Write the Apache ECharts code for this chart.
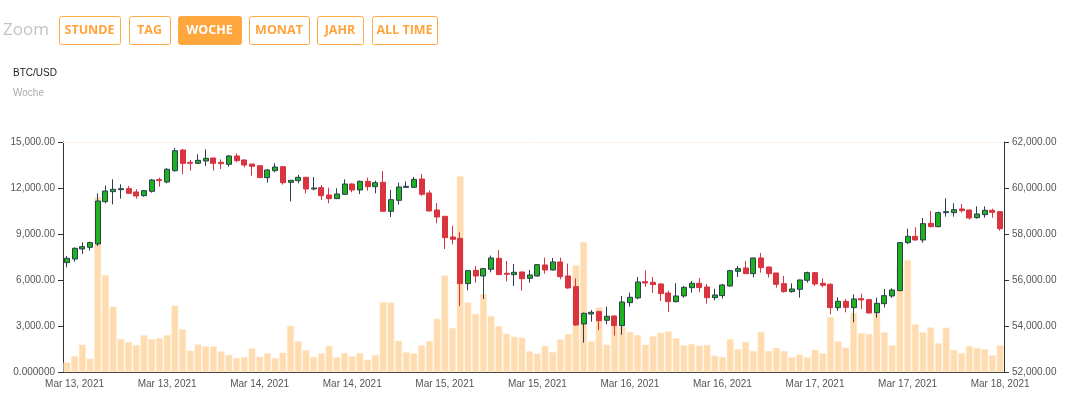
<!DOCTYPE html>
<html>
<head>
<meta charset="utf-8">
<script src="https://cdn.jsdelivr.net/npm/echarts@6/dist/echarts.min.js"></script>
<style>
html,body{margin:0;padding:0;background:#fff;}
#chart{width:1080px;height:403px;}
</style>
</head>
<body>
<div id="chart"></div>
<script>
// ---- Data ----
var dayLabels = ['Mar 13, 2021','Mar 14, 2021','Mar 15, 2021','Mar 16, 2021','Mar 17, 2021','Mar 18, 2021'];
var opens = [56755,56914,57349,57421,57566,59406,59841,59928,59971,59827,59667,59856,60363,60261,60754,61652,61116,61073,61174,61305,
61116,61029,61392,61218,61044,60971,60449,60754,60928,60247,60319,60464,59957,60015,59696,59537,59725,60174,59914,60290,
60058,60247,58986,59464,60029,60029,60392,59783,59044,58769,57870,57812,55842,56422,56175,56465,56943,56291,56233,56349,
56073,56175,56653,56436,56784,56175,55711,54088,54523,54625,54248,54436,54016,55016,55219,55929,55900,55827,55436,55059,
55306,55668,55856,55697,55233,55320,55740,56378,56523,56277,56958,56566,56306,55842,55494,55595,55987,56320,55856,55813,
54798,55074,54798,55190,55146,54581,54972,55306,55537,57624,57899,57740,58464,58319,58928,58928,59088,59044,58711,58841,
59030,58972];
var closes = [56943,57378,57450,57624,59435,59870,59943,59971,59769,59653,59885,60348,60319,60812,61623,61073,61073,61203,61290,61073,
61058,61392,61189,61000,60942,60449,60783,60913,60232,60334,60464,59957,60000,59667,59537,59740,60174,59914,60290,60058,
60232,58986,59493,60044,60073,60377,59725,59000,58740,57841,57769,55842,56407,56175,56494,56958,56233,56247,56335,56059,
56219,56668,56436,56784,56146,55653,54045,54552,54596,54233,54422,54016,55045,55248,55914,55871,55798,55407,55059,55306,
55682,55856,55668,55233,55349,55784,56407,56494,56277,56958,56537,56277,55813,55494,55610,56001,56320,55827,55769,54798,
55074,54813,55175,55132,54566,54987,55320,55566,57624,57899,57740,58450,58319,58928,58972,59059,59015,58696,58870,59030,
58943,58232];
var lows = [56552,56798,57132,57276,57479,59334,59290,59537,59740,59537,59624,59798,60058,60203,60710,60595,60754,61044,60957,60754,
60826,60928,61116,60899,60537,60435,60232,60681,60145,59421,60203,59769,59899,59479,59334,59537,59725,59812,59740,59885,
59769,58971,58740,59276,60015,60015,59653,58986,58464,57349,57552,54871,55552,55885,55175,56335,56219,55943,55740,55537,
55885,56146,56277,56422,56030,55624,54016,53277,54190,53827,54074,53581,53625,54842,55161,55711,55436,55088,54610,55016,
55233,55451,55465,54972,55117,55190,55711,56132,56262,56117,56320,56103,55668,55451,55451,55233,55885,55740,55682,54508,
54653,54595,54161,54740,54552,54364,54813,55219,55523,57566,57711,57624,58290,58290,58754,58754,58928,58624,58667,58711,
58711,58145];
var highs = [57044,57421,57639,57668,59769,60102,60377,60160,60087,59943,59914,60392,60450,60870,61739,61696,61218,61464,61681,61319,
61247,61435,61508,61247,61044,60971,60826,61073,60942,60348,60566,60479,60479,60131,60015,59986,60377,60203,60319,60450,
60319,60739,59914,60232,60290,60479,60609,59885,59348,58783,58363,58073,56436,56610,56523,57059,57305,56827,56697,56349,
56436,56697,56972,56958,56972,56711,56074,54581,54697,54668,54842,54451,55306,55451,56132,56422,56132,55856,55537,55856,
55740,55958,56088,55827,55624,55827,56436,56610,56827,56972,57175,56581,56306,56175,55856,56016,56364,56335,56074,55856,
55248,55175,55378,55407,55161,55233,55610,55639,57639,58232,58290,58696,59001,58972,59551,59334,59305,59059,59203,59203,
59102,58986];
var volumes = [630,1040,1780,870,11390,6330,4260,2150,1960,1760,2390,2150,2220,2410,4330,2780,1390,1800,1670,1670,
1350,1110,910,980,1540,1000,1220,910,1260,3020,2000,1430,980,1220,1700,960,1240,1020,1240,800,
1110,4540,4540,2040,1300,1220,1740,2020,3460,6300,2870,12760,4540,3780,5070,3650,3000,2500,2300,2240,
1350,1200,1700,1300,2130,2480,6960,8480,2000,4220,1780,3020,2960,2610,2410,1780,2330,2570,2650,2200,
1760,1830,1720,1760,1070,980,2150,1500,1960,1370,2610,1370,1570,1370,960,1130,960,1440,1220,3590,
2000,1590,3850,2540,2480,3850,2590,1740,6910,7300,3110,2590,2910,1870,2890,1440,1240,1700,1570,1500,
1090,1740];
var volumeTicks = [0,3000,6000,9000,12000,15000];
var priceTicks = [52000,54000,56000,58000,60000,62000];
var buttons = ['STUNDE','TAG','WOCHE','MONAT','JAHR','ALL TIME'];
var activeButton = 'WOCHE';

// one category per hourly candle, labelled with its day
var categories = [];
for (var i = 0; i < opens.length; i++) {
  categories.push(dayLabels[Math.floor(i / 24)]);
}
var candles = opens.map(function (o, i) { return [o, closes[i], lows[i], highs[i]]; });

// ---- Buttons (graphic) ----
var btnX = [59, 129, 178, 249, 317, 372];
var btnW = [61, 41, 63, 60, 46, 65];
var graphics = [{
  type: 'text', x: 3, y: 30,
  style: { text: 'Zoom', font: '17px "Open Sans", sans-serif', fill: '#c4c4c4', textVerticalAlign: 'middle' }
}];
buttons.forEach(function (b, k) {
  var active = b === activeButton;
  graphics.push({
    type: 'rect', left: btnX[k], top: 16,
    shape: { width: btnW[k], height: 28, r: 2 },
    style: { fill: active ? '#ffa63c' : '#fff', stroke: '#ffab45', lineWidth: 1 }
  });
  graphics.push({
    type: 'text', x: btnX[k] + btnW[k] / 2, y: 30,
    style: { text: b, font: 'bold 12.5px "Open Sans", sans-serif', fill: active ? '#fff' : '#ffa43a',
             textAlign: 'center', textVerticalAlign: 'middle' }
  });
});

function fmt2(v) {
  return v.toLocaleString('en-US', { minimumFractionDigits: 2, maximumFractionDigits: 2 });
}

var axisLabelStyle = { color: '#555', fontSize: 10, fontFamily: '"Liberation Sans", Arial, sans-serif' };

var chart = echarts.init(document.getElementById('chart'), null, { renderer: 'canvas' });
chart.setOption({
  animation: false,
  backgroundColor: '#fff',
  title: [
    { text: 'BTC/USD', left: 8, top: 63, textStyle: { fontSize: 10, fontWeight: 'normal', color: '#222', fontFamily: '"Liberation Sans", Arial, sans-serif' } },
    { text: 'Woche', left: 8, top: 83, textStyle: { fontSize: 10, fontWeight: 'normal', color: '#aaa', fontFamily: '"Liberation Sans", Arial, sans-serif' } }
  ],
  graphic: graphics,
  grid: { left: 63, right: 76, top: 142, bottom: 31 },
  xAxis: [{
    type: 'category', data: categories, boundaryGap: true,
    axisLine: { lineStyle: { color: '#333', width: 1 } },
    axisTick: { alignWithLabel: true, length: 5, lineStyle: { color: '#333' },
      interval: function (idx) { return idx % 12 === 7; } },
    axisLabel: Object.assign({ margin: 7, interval: function (idx) { return idx % 12 === 1; } }, axisLabelStyle),
    splitLine: { show: false }
  }, {
    type: 'category', data: categories, position: 'top',
    axisLine: { lineStyle: { color: '#fdf0e6', width: 1 } },
    axisTick: { show: false }, axisLabel: { show: false }, splitLine: { show: false }
  }],
  yAxis: [{
    type: 'value', position: 'left', min: volumeTicks[0], max: volumeTicks[volumeTicks.length - 1], interval: 3000,
    axisLine: { show: true, lineStyle: { color: '#333' } },
    axisTick: { show: true, length: 5, lineStyle: { color: '#333' } },
    axisLabel: Object.assign({ margin: 8, formatter: function (v) { return v === 0 ? '0.000000' : fmt2(v); } }, axisLabelStyle),
    splitLine: { show: false }
  }, {
    type: 'value', position: 'right', min: priceTicks[0], max: priceTicks[priceTicks.length - 1], interval: 2000,
    axisLine: { show: true, lineStyle: { color: '#333' } },
    axisTick: { show: true, length: 5, lineStyle: { color: '#333' } },
    axisLabel: Object.assign({ margin: 8, formatter: function (v) { return fmt2(v); } }, axisLabelStyle),
    splitLine: { show: false }
  }],
  series: [{
    name: 'Volume', type: 'bar', xAxisIndex: 0, yAxisIndex: 0, data: volumes,
    barCategoryGap: '12%', z: 1,
    itemStyle: { color: '#ffdcb0', borderColor: '#ffe6c8', borderWidth: 0.5 }
  }, {
    name: 'BTC/USD', type: 'candlestick', xAxisIndex: 0, yAxisIndex: 1, data: candles,
    barWidth: 5.5, z: 3,
    itemStyle: { color: '#1cb31c', color0: '#d9343f', borderColor: '#2c3e50', borderColor0: '#d9343f', borderWidth: 1 }
  }]
});
</script>
</body>
</html>
